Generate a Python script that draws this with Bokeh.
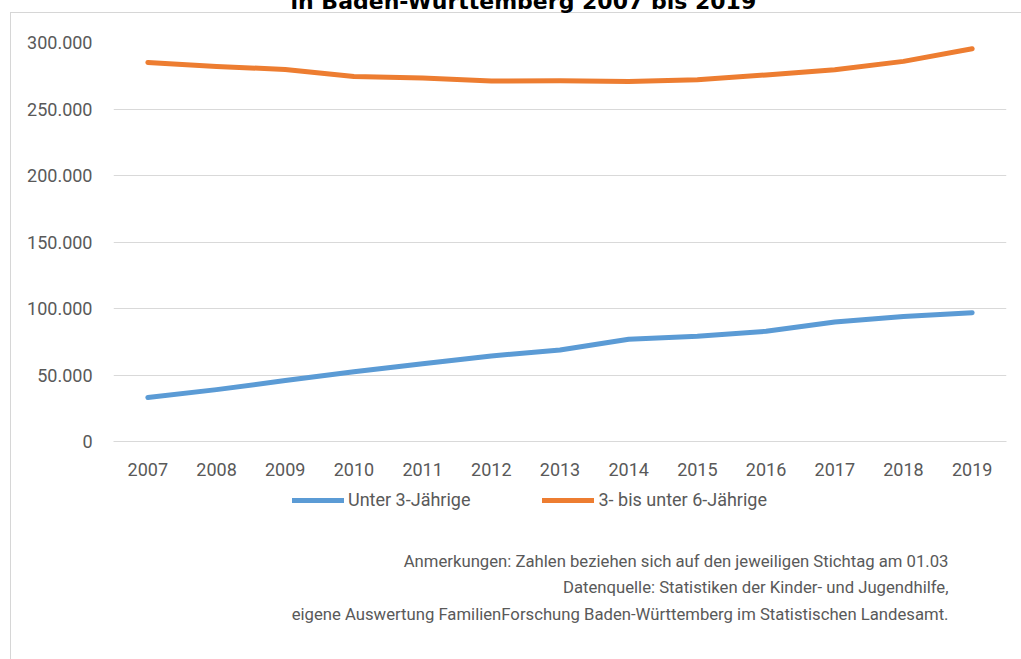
from bokeh.plotting import figure
from bokeh.layouts import column
from bokeh.models import (Range1d, FixedTicker, CustomJSTickFormatter, Label,
                          Legend, LegendItem)
from bokeh.embed import file_html
from bokeh.resources import INLINE

# ---- data ----
years = [str(y) for y in range(2007, 2020)]
unter3 = [33100, 39000, 45800, 52500, 58500, 64300, 68800, 76900, 79200, 82900, 89900, 94000, 96800]
drei_bis6 = [285000, 282000, 279700, 274500, 273300, 271000, 271300, 270600, 272000, 275600, 279500, 285800, 295300]
y_ticks = [0, 50000, 100000, 150000, 200000, 250000, 300000]
series_names = ["Unter 3-Jährige", "3- bis unter 6-Jährige"]
title_text = "in Baden-Württemberg 2007 bis 2019"
notes = [
    "Anmerkungen: Zahlen beziehen sich auf den jeweiligen Stichtag am 01.03",
    "Datenquelle: Statistiken der Kinder- und Jugendhilfe,",
    "eigene Auswertung FamilienForschung Baden-Württemberg im Statistischen Landesamt.",
]

FONT = "Roboto"
GREY = "#595959"
BLUE = "#5B9BD5"
ORANGE = "#ED7D31"
BOX = "#d6d6d6"

S = 44                      # main canvas shifted up by S px (title is cut at window top)
W = 1021
B1 = 486                    # window y where the main figure ends
H1 = B1 + S
H2 = 659 - B1
FL, FR, FT, FB = 113, 1006, 42 + S, 441 + S   # frame edges in main canvas px

# ---------------- main chart ----------------
p = figure(width=W, height=H1, x_range=years, y_range=Range1d(0, 300000),
           output_backend="svg", toolbar_location=None,
           min_border_left=FL, min_border_right=W - FR,
           min_border_top=FT, min_border_bottom=H1 - FB)
p.outline_line_color = None
p.background_fill_color = None
p.border_fill_color = None
p.styles = {
    "margin-top": f"-{S}px",
    "background": (f"linear-gradient({BOX}, {BOX}) 10px {12 + S}px / 1px 100% no-repeat, "
                   f"linear-gradient({BOX}, {BOX}) 10px {12 + S}px / 100% 1px no-repeat, #ffffff"),
}

# cut-off chart title
p.title.text = title_text
p.title.align = "left"
p.title.offset = 177
p.title.vertical_align = "bottom"
p.title.standoff = 58
p.title.text_font = "DejaVu Sans"
p.title.text_font_style = "bold"
p.title.text_font_size = "22px"
p.title.text_color = "black"

p.line(years, unter3, line_color=BLUE, line_width=5, line_cap="round", line_join="round")
p.line(years, drei_bis6, line_color=ORANGE, line_width=5, line_cap="round", line_join="round")

p.yaxis.ticker = FixedTicker(ticks=y_ticks)
p.yaxis.formatter = CustomJSTickFormatter(
    code="return tick.toFixed(0).replace(/\\B(?=(\\d{3})+(?!\\d))/g, '.');")
p.yaxis.axis_line_color = None
p.yaxis.major_tick_line_color = None
p.yaxis.minor_tick_line_color = None
p.yaxis.major_tick_out = 0
p.yaxis.major_label_standoff = 21
p.yaxis.major_label_text_font = FONT
p.yaxis.major_label_text_font_size = "18px"
p.yaxis.major_label_text_color = GREY

p.xaxis.axis_line_color = "#d9d9d9"
p.xaxis.major_tick_line_color = None
p.xaxis.minor_tick_line_color = None
p.xaxis.major_tick_out = 0
p.xaxis.major_label_standoff = 21
p.xaxis.major_label_text_font = FONT
p.xaxis.major_label_text_font_size = "18px"
p.xaxis.major_label_text_color = GREY

p.xgrid.grid_line_color = None
p.ygrid.grid_line_color = "#d9d9d9"
p.ygrid.grid_line_width = 1

# ---------------- legend + notes strip ----------------
p2 = figure(width=W, height=H2, x_range=Range1d(0, W), y_range=Range1d(0, H2),
            output_backend="svg", toolbar_location=None,
            min_border_left=0, min_border_right=0, min_border_top=0, min_border_bottom=0)
p2.title.visible = False
p2.xaxis.visible = False
p2.yaxis.visible = False
p2.grid.visible = False
p2.outline_line_color = None
p2.background_fill_color = None
p2.border_fill_color = None
p2.styles = {
    "background": f"linear-gradient({BOX}, {BOX}) 10px 0px / 1px 100% no-repeat, #ffffff",
}

# legend proxies: the series again, far outside this strip's visible range
idx = list(range(len(years)))
l1 = p2.line(x=idx, y=unter3, line_color=BLUE, line_width=5, line_cap="round")
l2 = p2.line(x=idx, y=drei_bis6, line_color=ORANGE, line_width=5, line_cap="round")

# the strip's frame is aligned with the main frame (left edge at FL)
def sx(window_x):
    return window_x - FL


def fy(window_y):
    """window y -> strip screen y (origin bottom-left, y up)"""
    return 659 - window_y


lg = Legend(items=[LegendItem(label=series_names[0], renderers=[l1]),
                   LegendItem(label=series_names[1], renderers=[l2])],
            location=(sx(292), fy(510)), orientation="horizontal",
            padding=0, margin=0, spacing=72, glyph_width=52, glyph_height=20,
            label_height=20, label_standoff=4, label_text_font=FONT,
            label_text_font_size="18px", label_text_color=GREY,
            border_line_color=None, background_fill_alpha=0)
p2.add_layout(lg, "center")

for txt, base in zip(notes, [561, 587, 614]):
    p2.add_layout(Label(x=sx(948), y=fy(base), x_units="screen", y_units="screen",
                        text=txt, text_align="right", text_baseline="alphabetic",
                        text_font=FONT, text_font_size="16.7px", text_color=GREY))

layout = column(p, p2, spacing=0)
open("out.html", "w").write(file_html(layout, INLINE))
